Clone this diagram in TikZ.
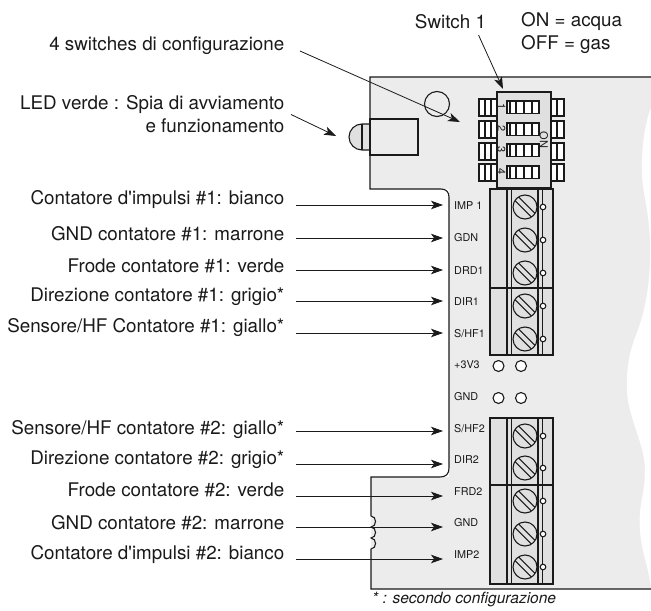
\documentclass[tikz,border=0pt]{standalone}
\usepackage{fontspec}
\setmainfont[Ligatures=TeXOff]{TeX Gyre Heros}
\usetikzlibrary{arrows.meta}
\definecolor{fond}{HTML}{ECECEC}
\definecolor{piece}{HTML}{E0E0E0}
\definecolor{encre}{HTML}{1A1A1A}
\tikzset{
Fleche/.style={
 draw=encre,
 line width=0.8pt,
 -{Stealth[length=12bp,width=8.5bp,inset=3bp]}
 },
Etiq/.style={
 anchor=east,
 inner xsep=11.5bp,
 inner ysep=0pt,
 text=encre,
 font=\fontsize{18.8bp}{23bp}\selectfont
 },
Borne/.style={
 anchor=west,
 inner sep=0pt,
 text=encre,
 font=\fontsize{10.8bp}{12bp}\selectfont
 },
Piece/.style={
 draw=encre,
 fill=piece,
 line width=1.1pt
 },
Trait/.style={
 draw=encre,
 line width=1.1pt
 },
vis/.pic={
 \draw[Piece] (0,0) circle (12);
 \draw[Trait] (-6.4,-10.1) -- (10.1,6.4);
 \draw[Trait] (-10.1,-6.4) -- (6.4,10.1);
 \draw[Trait,fill=white] (18,0) circle (2.8);
 }
}
\begin{document}
\begin{tikzpicture}[x=1bp,y=-1bp]
\useasboundingbox (0,0) rectangle (651,611);
% carte
\fill[fond] (370,77) -- (370,189) -- (449,189) -- (449,477) -- (371,477) -- (371,589) -- (651,589) -- (651,77) -- cycle;
\fill[white] (652,78) -- (651,108) .. controls (645,122) and (641,150) .. (642,175) .. controls (643,195) and (648,205) .. (650,240) .. controls (651,280) and (646,310) .. (636,335) .. controls (628,355) and (626,375) .. (627,392) .. controls (629,420) and (645,445) .. (645,470) .. controls (645,495) and (638,505) .. (640,530) .. controls (641,550) and (648,565) .. (651,588) -- (652,588) -- cycle;
\draw[Trait] (651,77) -- (370,77) -- (370,189) -- (441,189) .. controls (446,189) and (449,192) .. (449,197) -- (449,468) .. controls (449,474) and (446,477) .. (440,477) -- (371,477) -- (371,516) .. controls (377,516) and (377,527) .. (371,527) .. controls (377,527) and (377,538) .. (371,538) .. controls (377,538) and (377,549) .. (371,549) -- (371,589) -- (651,589);
% LED
\draw[Piece] (370,124) -- (362,124) arc[start angle=270,end angle=90,radius=13] -- (370,150);
\draw[Trait] (362,124) -- (362,150);
\draw[Trait,fill=fond] (370,119) rectangle (418,155);
\draw[Trait] (437,104) circle (12.5);
% switches
\foreach \y/\n in {99/1,121/2,143/3,164/4} {
 \draw[Trait,fill=white] (479,\y) rectangle (497,\y+17);
 \draw[Trait] (485,\y) -- (485,\y+17) (491,\y) -- (491,\y+17);
 \draw[Trait,fill=white] (551,\y) rectangle (564,\y+17);
 \draw[Trait] (557,\y) -- (557,\y+17);
}
\draw[Piece] (497,92) rectangle (551,188);
\foreach \y/\n in {101/1,123/2,144/3,166/4} {
 \draw[Trait,fill=white] (507,\y) rectangle (539,\y+12.5);
 \draw[Trait] (510,\y) -- (510,\y+12.5) (516,\y) -- (516,\y+12.5) (524,\y) -- (524,\y+12.5) (532,\y) -- (532,\y+12.5);
 \node[inner sep=0pt,rotate=-90,text=encre,font=\fontsize{11bp}{12bp}\selectfont] (num\n) at (501.5,\y+6) {\n};
}
\node[inner sep=0pt,rotate=-90,text=encre,font=\fontsize{11bp}{12bp}\selectfont] (on) at (544,140) {ON};
% borniers
\foreach \yh/\yb/\ym in {189/355/288,418/584/485} {
 \draw[Piece] (490,\yh) rectangle (553,\yb);
 \draw[Trait] (507,\yh) -- (507,\yb) (511.5,\yh) -- (511.5,\yb) (538,\yh) -- (538,\yb) (542.5,\yh) -- (542.5,\yb);
 \draw[Trait] (490,\ym) -- (553,\ym);
}
\foreach \y in {207,240,273,306,339,436,468,501,534,567} {
 \pic at (525,\y) {vis};
}
\foreach \y in {366,398} {
 \draw[Trait,fill=white] (498.5,\y) circle (5.5);
 \draw[Trait,fill=white] (521,\y) circle (5.5);
}
% bornes
\node[Borne] (imp1) at (454,206) {IMP 1};
\node[Borne] (gdn) at (454,238) {GDN};
\node[Borne] (drd1) at (454,271) {DRD1};
\node[Borne] (dir1) at (454,302) {DIR1};
\node[Borne] (shf1) at (454,334) {S/HF1};
\node[Borne] (p3v3) at (454,365) {+3V3};
\node[Borne] (gnd1) at (454,397) {GND};
\node[Borne] (shf2) at (454,429) {S/HF2};
\node[Borne] (dir2) at (454,460) {DIR2};
\node[Borne] (frd2) at (454,492) {FRD2};
\node[Borne] (gnd2) at (454,523) {GND};
\node[Borne] (imp2) at (454,555) {IMP2};
% fleches
\coordinate (f1) at (443,205);
\coordinate (f2) at (443,238);
\coordinate (f3) at (443,270);
\coordinate (f4) at (443,301);
\coordinate (f5) at (443,333);
\coordinate (f6) at (443,431);
\coordinate (f7) at (443,464);
\coordinate (f8) at (443,496);
\coordinate (f9) at (443,527);
\coordinate (f10) at (443,559);
\coordinate (fsw) at (460,122);
\coordinate (fled) at (336,136);
\coordinate (fun) at (503,89);
% textes
\node[Etiq] (tsw) at (296,46) {4 switches di configurazione};
\node[Etiq,align=right] (tled) at (296,114.5) {LED verde : Spia di avviamento\\e funzionamento};
\node[Etiq] (t1) at (296,200) {Contatore d'impulsi \#1: bianco};
\node[Etiq] (t2) at (296,234) {GND contatore \#1: marrone};
\node[Etiq] (t3) at (296,266) {Frode contatore \#1: verde};
\node[Etiq] (t4) at (296,297) {Direzione contatore \#1: grigio*};
\node[Etiq] (t5) at (296,328) {Sensore/HF Contatore \#1: giallo*};
\node[Etiq] (t6) at (296,430) {Sensore/HF contatore \#2: giallo*};
\node[Etiq] (t7) at (296,460) {Direzione contatore \#2: grigio*};
\node[Etiq] (t8) at (296,490) {Frode contatore \#2: verde};
\node[Etiq] (t9) at (296,523) {GND contatore \#2: marrone};
\node[Etiq] (t10) at (296,555) {Contatore d'impulsi \#2: bianco};
\node[Etiq,anchor=center,inner xsep=0pt] (tun) at (450.5,22) {Switch 1};
\node[Etiq,anchor=west,inner xsep=0pt] (ton) at (521,22) {ON = acqua};
\node[Etiq,anchor=west,inner xsep=0pt] (toff) at (521,45) {OFF = gas};
\node[Etiq,anchor=west,inner xsep=0pt,font=\fontsize{15.5bp}{18bp}\itshape\selectfont] (note) at (372,600) {* : secondo configurazione};
\draw[Fleche] (t1.east |- f1) -- (f1);
\draw[Fleche] (t2.east |- f2) -- (f2);
\draw[Fleche] (t3.east |- f3) -- (f3);
\draw[Fleche] (t4.east |- f4) -- (f4);
\draw[Fleche] (t5.east |- f5) -- (f5);
\draw[Fleche] (t6.east |- f6) -- (f6);
\draw[Fleche] (t7.east |- f7) -- (f7);
\draw[Fleche] (t8.east |- f8) -- (f8);
\draw[Fleche] (t9.east |- f9) -- (f9);
\draw[Fleche] (t10.east |- f10) -- (f10);
\draw[Fleche] ([shift={(4,5)}]tsw.east) -- (fsw);
\draw[Fleche] ([shift={(-5,0)}]tled.east) -- (fled);
\draw[Fleche] ([shift={(28,13)}]tun.center) -- (fun);
\end{tikzpicture}
\end{document}
